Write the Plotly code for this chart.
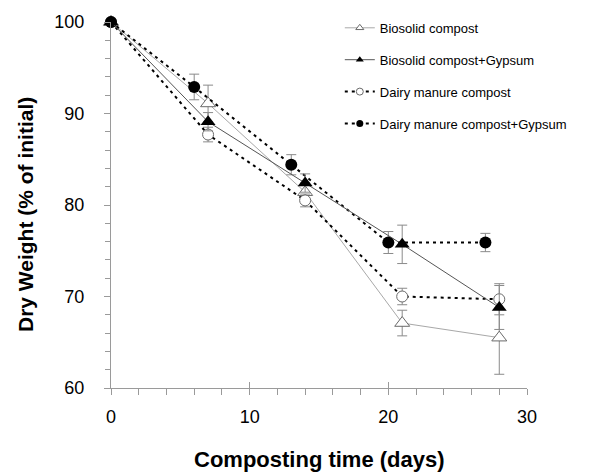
import plotly.graph_objects as go

# ---- data ----
bc_days = [0, 7, 14, 21, 28]
bc_vals = [100, 91.1, 81.4, 67.1, 65.5]
bc_err = [0, 2.0, 1.0, 1.4, 4.0]

bcg_days = [0, 7, 14, 21, 28]
bcg_vals = [100, 89.1, 82.4, 75.7, 68.8]
bcg_err = [0, 1.0, 1.0, 2.1, 2.4]

dmc_days = [0, 7, 14, 21, 28]
dmc_vals = [100, 87.7, 80.5, 70.0, 69.7]
dmc_err = [0, 0.8, 0.7, 0.9, 1.7]

dmcg_days = [0, 6, 13, 20, 27]
dmcg_vals = [100, 92.9, 84.4, 75.9, 75.9]
dmcg_err = [0, 1.4, 1.1, 1.2, 1.0]

names = ["Biosolid compost", "Biosolid compost+Gypsum",
         "Dairy manure compost", "Dairy manure compost+Gypsum"]

x_ticks = [0, 10, 20, 30]
y_ticks = [60, 70, 80, 90, 100]

FONT = "Liberation Sans, Arial, sans-serif"
ERR = dict(type="data", symmetric=True, color="#8a8a8a", thickness=1, width=5)
DOT = "3px,4px"

styles = {
    names[0]: dict(line=dict(color="#a8a8a8", width=1),
                   marker=dict(symbol="triangle-up", size=13, color="white",
                               line=dict(color="#6a6a6a", width=1))),
    names[1]: dict(line=dict(color="#555555", width=1),
                   marker=dict(symbol="triangle-up", size=13, color="black",
                               line=dict(color="black", width=0))),
    names[2]: dict(line=dict(color="black", width=2, dash=DOT),
                   marker=dict(symbol="circle", size=11, color="white",
                               line=dict(color="#6a6a6a", width=1))),
    names[3]: dict(line=dict(color="black", width=2, dash=DOT),
                   marker=dict(symbol="circle", size=12, color="black",
                               line=dict(color="black", width=0))),
}

series = {
    names[0]: (bc_days, bc_vals, bc_err),
    names[1]: (bcg_days, bcg_vals, bcg_err),
    names[2]: (dmc_days, dmc_vals, dmc_err),
    names[3]: (dmcg_days, dmcg_vals, dmcg_err),
}

fig = go.Figure()

# draw order: BC, DMC, DMC+G, BC+G
for nm in [names[0], names[2], names[3], names[1]]:
    d, v, e = series[nm]
    st = styles[nm]
    fig.add_trace(go.Scatter(
        x=d, y=v, mode="lines+markers", name=nm, showlegend=False,
        line=st["line"], marker=st["marker"],
        error_y=dict(array=e, **ERR), cliponaxis=False))

# legend entries (smaller markers, like the original key)
for i, nm in enumerate(names):
    st = styles[nm]
    mk = dict(st["marker"])
    mk["size"] = 7
    fig.add_trace(go.Scatter(
        x=[None], y=[None], mode="lines+markers", name=nm,
        line=st["line"], marker=mk, legendgroup=f"g{i}", legendrank=i + 1))

axis_common = dict(showline=True, linecolor="#9a9a9a", linewidth=1,
                   showgrid=False, zeroline=False, ticks="outside",
                   tickcolor="#9a9a9a", ticklen=6, tickwidth=1,
                   tickfont=dict(family=FONT, size=18, color="black"))

# page body has an 8px margin, so the figure is sized/positioned to compensate
fig.update_layout(
    width=587, height=465,
    margin=dict(l=103, r=68, t=14, b=85, autoexpand=False),
    paper_bgcolor="white", plot_bgcolor="white",
    font=dict(family=FONT, color="black"),
    xaxis=dict(range=[0, 30], tickvals=x_ticks,
               minor=dict(dtick=2, ticks="outside", ticklen=6,
                          tickcolor="#9a9a9a"),
               ticklabelstandoff=6, **axis_common),
    xaxis2=dict(range=[0, 30], overlaying="x", matches="x", tickvals=x_ticks,
                ticks="inside", ticklen=6, tickcolor="#9a9a9a",
                showticklabels=False, showline=False, showgrid=False,
                zeroline=False, side="bottom"),
    yaxis=dict(range=[60, 100], tickvals=y_ticks,
               minor=dict(dtick=2, ticks="outside", ticklen=5,
                          tickcolor="#9a9a9a"),
               ticklabelstandoff=16, **axis_common),
    legend=dict(x=0.55, y=1.025, xanchor="left", yanchor="top",
                font=dict(family=FONT, size=13, color="black"),
                traceorder="grouped", tracegroupgap=12,
                bgcolor="rgba(0,0,0,0)"),
    annotations=[
        dict(text="<b>Composting time (days)</b>", xref="paper", yref="paper",
             x=0.5, y=-0.196, xanchor="center", yanchor="middle",
             showarrow=False, font=dict(family=FONT, size=22, color="black")),
        dict(text="<b>Dry Weight (% of initial)</b>", xref="paper",
             yref="paper", x=-0.207, y=0.475, xanchor="center",
             yanchor="middle", textangle=-90, showarrow=False,
             font=dict(family=FONT, size=21, color="black")),
    ],
)

# dummy trace to activate the overlay axis for crossing major ticks
fig.add_trace(go.Scatter(x=[None], y=[None], xaxis="x2", showlegend=False,
                         hoverinfo="skip"))

fig.write_html("out.html")
